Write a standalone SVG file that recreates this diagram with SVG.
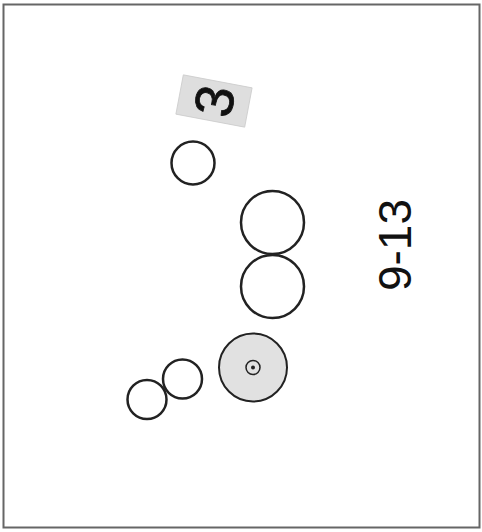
<svg xmlns="http://www.w3.org/2000/svg" width="482" height="532" viewBox="0 0 482 532">
<style>
.c{fill:none;stroke:#222;stroke-width:2.5}
.g{fill:#e1e1e1;stroke:#222;stroke-width:2}
.t{font-family:"Liberation Sans",Arial,sans-serif;fill:#111}
</style>
<rect x="0" y="0" width="482" height="532" fill="#fff"/>
<rect id="frame" x="3.5" y="4.5" width="476" height="523" fill="none" stroke="#666" stroke-width="2"/>
<g id="label3" transform="translate(214,101) rotate(10.7)">
<rect x="-35" y="-20" width="70" height="40" fill="#dedede" stroke="#ccc" stroke-width="0.8"/>
<text class="t" transform="rotate(-90)" x="0" y="19" font-size="54" stroke="#111" stroke-width="0.8" text-anchor="middle">3</text>
</g>
<g id="c1"><circle class="c" cx="193" cy="163" r="21.5"/></g>
<g id="c2"><circle class="c" cx="272.5" cy="222.5" r="31.5"/></g>
<g id="c3"><circle class="c" cx="272.5" cy="286.5" r="31.5"/></g>
<g id="c4"><circle class="g" cx="253" cy="367.5" r="34"/><circle fill="none" stroke="#222" stroke-width="1.5" cx="253" cy="367.5" r="7"/><circle fill="#222" cx="253" cy="367.5" r="2"/></g>
<g id="c5"><circle class="c" cx="182.5" cy="379" r="19.5"/></g>
<g id="c6"><circle class="c" cx="147" cy="399.5" r="19.5"/></g>
<g id="lbl"><text class="t" transform="translate(411,245) rotate(-90)" font-size="46" text-anchor="middle">9-13</text></g>
</svg>
